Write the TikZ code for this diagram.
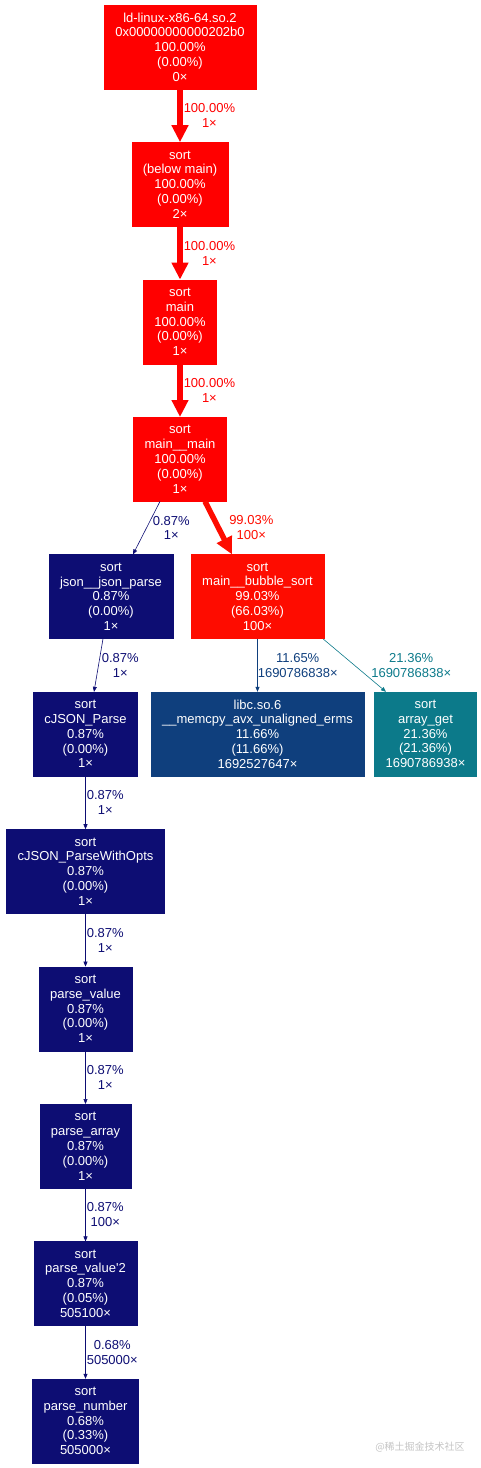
\documentclass[tikz,border=0pt]{standalone}
\usepackage{fontspec}
\usepackage{xcolor}
\usepackage{tikz}
\usetikzlibrary{arrows.meta,shapes,positioning}

\newfontfamily\fnface{Liberation Sans}
\newfontfamily\cjk{Noto Sans CJK SC}
\newcommand\fnfont{\fnface\fontsize{13}{14.8}\selectfont}

\definecolor{hot}{HTML}{FF0000}
\definecolor{warm}{HTML}{FE0C00}
\definecolor{cold}{HTML}{0D0D73}
\definecolor{cool}{HTML}{0F3F7D}
\definecolor{teal}{HTML}{0C7A8A}
\definecolor{mark}{HTML}{C4C4C4}

\begin{document}
\begin{tikzpicture}[node distance=53pt, auto, >={Triangle[length=5pt,width=4pt]}]
  \tikzstyle{fn}=[rectangle, draw, align=center, text=white, font=\fnfont, minimum height=84pt, inner xsep=11pt, inner ysep=2pt]
  \tikzstyle{lbl}=[align=center, anchor=west, font=\fnfont, inner xsep=1pt, inner ysep=0pt]
  \tikzstyle{fat}=[line width=5.5pt, -{Triangle[length=17pt,width=16pt]}]
  \tikzstyle{thin}=[line width=0.6pt, ->]
  \useasboundingbox (0,0) rectangle (481pt,-1468pt);

  \node[fn, fill=hot, draw=hot] (ld) at (180pt,-47pt) {ld-linux-x86-64.so.2\\0x00000000000202b0\\100.00\%\\(0.00\%)\\0×};
  \node[fn, fill=hot, draw=hot, below=of ld] (belowmain) {sort\\(below main)\\100.00\%\\(0.00\%)\\2×};
  \node[fn, fill=hot, draw=hot, below=of belowmain] (main) {sort\\main\\100.00\%\\(0.00\%)\\1×};
  \node[fn, fill=hot, draw=hot, below=of main] (mainmain) {sort\\main\_\_main\\100.00\%\\(0.00\%)\\1×};
  \node[fn, fill=cold, draw=cold, below=of mainmain, xshift=-69pt] (jsonparse) {sort\\json\_\_json\_parse\\0.87\%\\(0.00\%)\\1×};
  \node[fn, fill=warm, draw=warm, below=of mainmain, xshift=77.5pt] (bubble) {sort\\main\_\_bubble\_sort\\99.03\%\\(66.03\%)\\100×};
  \node[fn, fill=cold, draw=cold, below=of jsonparse, xshift=-25.5pt] (cparse) {sort\\cJSON\_Parse\\0.87\%\\(0.00\%)\\1×};
  \node[fn, fill=cool, draw=cool, below=of bubble] (memcpy) {libc.so.6\\\_\_memcpy\_avx\_unaligned\_erms\\11.66\%\\(11.66\%)\\1692527647×};
  \node[fn, fill=teal, draw=teal, below=of bubble, xshift=168pt] (arrayget) {sort\\array\_get\\21.36\%\\(21.36\%)\\1690786938×};
  \node[fn, fill=cold, draw=cold, below=of cparse] (cparseopts) {sort\\cJSON\_ParseWithOpts\\0.87\%\\(0.00\%)\\1×};
  \node[fn, fill=cold, draw=cold, below=of cparseopts] (pvalue) {sort\\parse\_value\\0.87\%\\(0.00\%)\\1×};
  \node[fn, fill=cold, draw=cold, below=of pvalue] (parray) {sort\\parse\_array\\0.87\%\\(0.00\%)\\1×};
  \node[fn, fill=cold, draw=cold, below=of parray] (pvaluetwo) {sort\\parse\_value\textquotesingle2\\0.87\%\\(0.05\%)\\505100×};
  \node[fn, fill=cold, draw=cold, below=of pvaluetwo] (pnumber) {sort\\parse\_number\\0.68\%\\(0.33\%)\\505000×};

  % call edges
  \draw[fat, hot] (ld) -- node[lbl, text=hot] {100.00\%\\1×} (belowmain);
  \draw[fat, hot] (belowmain) -- node[lbl, text=hot] {100.00\%\\1×} (main);
  \draw[fat, hot] (main) -- node[lbl, text=hot] {100.00\%\\1×} (mainmain);
  \draw[thin, cold] ([xshift=-20pt]mainmain.south) -- node[lbl, text=cold, xshift=5pt] {0.87\%\\1×} ([xshift=22pt]jsonparse.north);
  \draw[fat, warm] ([xshift=25pt]mainmain.south) -- node[lbl, text=warm, xshift=7pt] {99.03\%\\100×} ([xshift=-25.5pt]bubble.north);
  \draw[thin, cold] ([xshift=-8pt]jsonparse.south) -- node[lbl, text=cold, xshift=2pt] {0.87\%\\1×} ([xshift=8.5pt]cparse.north);
  \draw[thin, cool] (bubble) -- node[lbl, text=cool, xshift=-1pt] {11.65\%\\1690786838×} (memcpy);
  \draw[thin, teal] ([xshift=65.5pt]bubble.south) -- node[lbl, text=teal, xshift=15.5pt] {21.36\%\\1690786838×} ([xshift=-39.5pt]arrayget.north);
  \draw[thin, cold] (cparse) -- node[lbl, text=cold] {0.87\%\\1×} (cparseopts);
  \draw[thin, cold] (cparseopts) -- node[lbl, text=cold] {0.87\%\\1×} (pvalue);
  \draw[thin, cold] (pvalue) -- node[lbl, text=cold] {0.87\%\\1×} (parray);
  \draw[thin, cold] (parray) -- node[lbl, text=cold] {0.87\%\\100×} (pvaluetwo);
  \draw[thin, cold] (pvaluetwo) -- node[lbl, text=cold] {0.68\%\\505000×} (pnumber);

  \node[text=mark, font=\cjk\fontsize{10}{12}\selectfont] (watermark) at (420pt,-1447pt) {@稀土掘金技术社区};
\end{tikzpicture}
\end{document}
